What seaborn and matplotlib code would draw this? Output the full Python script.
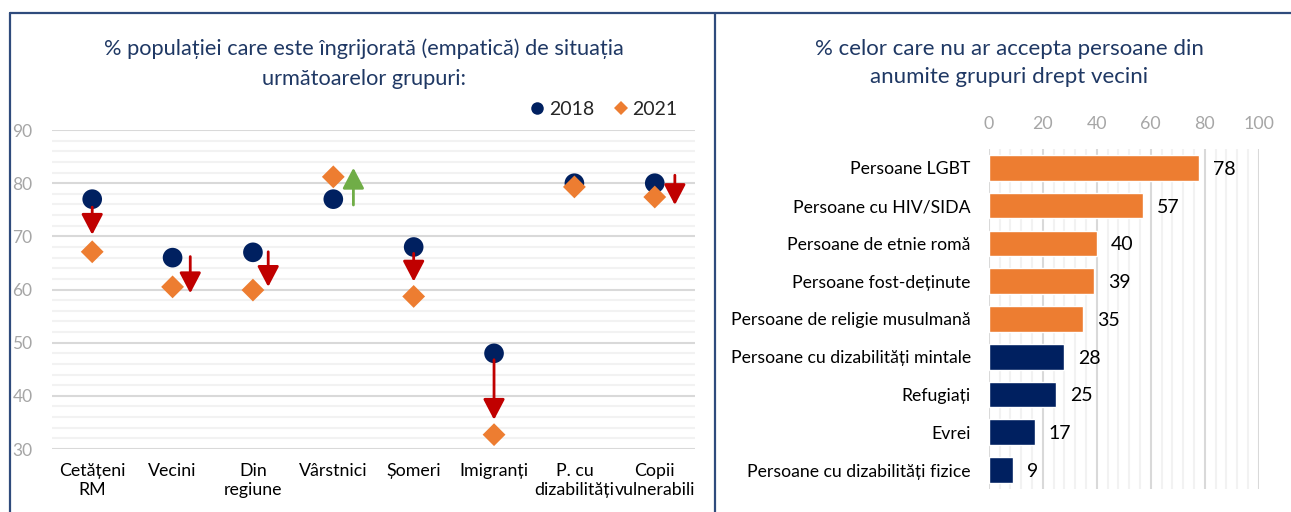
import matplotlib.pyplot as plt
import pandas as pd
import seaborn as sns
from matplotlib.lines import Line2D

# Left chart: concern for groups, 2018 vs 2021
groups = ["Cetățeni\nRM", "Vecini", "Din\nregiune", "Vârstnici", "Șomeri",
          "Imigranți", "P. cu\ndizabilități", "Copii\nvulnerabili"]
val_2018 = [77, 66, 67, 77, 68, 48, 80, 80]
val_2021 = [67.1, 60.5, 59.9, 81.2, 58.7, 32.7, 79.3, 77.4]

# change arrows (start, end, side shift in category units); None = no arrow
arrow_start = [75.5, 66.2, 67.1, 75.9, 66.8, 46.8, None, 81.5]
arrow_end = [70.3, 59.3, 60.5, 82.9, 61.5, 35.5, None, 75.9]
arrow_shift = [0, 0.22, 0.19, 0.25, 0, 0, 0, 0.25]

# Right chart: would not accept as neighbours
nb_labels = ["Persoane LGBT", "Persoane cu HIV/SIDA", "Persoane de etnie romă",
             "Persoane fost-deținute", "Persoane de religie musulmană",
             "Persoane cu dizabilități mintale", "Refugiați", "Evrei",
             "Persoane cu dizabilități fizice"]
nb_values = [78, 57, 40, 39, 35, 28, 25, 17, 9]

NAVY = "#002060"
ORANGE = "#ED7D31"
RED = "#C00000"
GREEN = "#70AD47"
TITLE = "#1F3864"
FRAME = "#2F4B7C"

sns.set_theme(style="white")
plt.rcParams["font.family"] = ["Lato", "DejaVu Sans"]

fig = plt.figure(figsize=(12.91, 5.12), dpi=100)

# ---------- left panel ----------
ax = fig.add_axes([0.0403, 0.123, 0.498, 0.623])
df = pd.DataFrame({
    "grup": groups * 2,
    "val": val_2018 + val_2021,
    "an": ["2018"] * len(groups) + ["2021"] * len(groups),
})
sns.scatterplot(df, x="grup", y="val", hue="an", style="an", size="an",
                markers={"2018": "o", "2021": "D"},
                palette={"2018": NAVY, "2021": ORANGE},
                sizes={"2018": 200, "2021": 135},
                linewidth=0, ax=ax, zorder=3)

for i in range(len(groups)):
    if arrow_start[i] is None:
        continue
    col = GREEN if arrow_end[i] > arrow_start[i] else RED
    ax.annotate("", xy=(i + arrow_shift[i], arrow_end[i]),
                xytext=(i + arrow_shift[i], arrow_start[i]),
                arrowprops=dict(arrowstyle="-|>,head_width=0.55,head_length=1.05",
                                color=col, lw=2, shrinkA=0, shrinkB=0),
                zorder=4)

ax.set_xlim(-0.5, len(groups) - 0.5)
ax.set_ylim(30, 90)
ax.set_yticks(range(30, 91, 10))
ax.set_yticks(range(30, 91, 2), minor=True)
ax.grid(axis="y", which="major", color="#D9D9D9", lw=1.5)
ax.grid(axis="y", which="minor", color="#F2F2F2", lw=1.5)
ax.set_axisbelow(True)
for sp in ax.spines.values():
    sp.set_visible(False)
ax.tick_params(axis="y", which="both", length=0, pad=14, labelsize=12.5,
               labelcolor="#A6A6A6")
ax.tick_params(axis="x", length=0, pad=10, labelsize=12.8, labelcolor="black")
ax.set_xlabel("")
ax.set_ylabel("")

h, l = ax.get_legend_handles_labels()
leg = ax.legend(h, l, ncol=2, loc="center right", bbox_to_anchor=(1.0, 1.065),
                frameon=False, handletextpad=0.25, columnspacing=1.0,
                fontsize=14, handlelength=0.7)
for hd, sz in zip(leg.legend_handles, [9, 7]):
    hd.set_markersize(sz)

fig.text(0.282, 0.875,
         "% populației care este îngrijorată (empatică) de situația\nurmătoarelor grupuri:",
         ha="center", va="center", fontsize=15.7, color=TITLE, linespacing=1.65)

# ---------- right panel ----------
ax2 = fig.add_axes([0.766, 0.045, 0.209, 0.664])
sns.barplot(x=nb_values, y=nb_labels, hue=nb_labels,
            palette=[ORANGE] * 5 + [NAVY] * 4, legend=False,
            orient="h", width=0.68, saturation=1, ax=ax2, zorder=3)
ax2.set_xlim(0, 100)
ax2.set_ylim(len(nb_labels) - 0.5, -0.5)
ax2.set_xticks(range(0, 101, 20))
ax2.set_xticks(range(0, 101, 4), minor=True)
ax2.xaxis.tick_top()
ax2.grid(axis="x", which="major", color="#D9D9D9", lw=1.5)
ax2.grid(axis="x", which="minor", color="#F2F2F2", lw=1.5)
ax2.set_axisbelow(True)
for sp in ax2.spines.values():
    sp.set_visible(False)
ax2.tick_params(axis="x", which="both", length=0, pad=12, labelsize=12.8,
                labelcolor="#A6A6A6")
ax2.tick_params(axis="y", length=0, pad=13, labelsize=12.7, labelcolor="black")

for i, v in enumerate(nb_values):
    ax2.annotate(f"{v}", xy=(v, i), xytext=(10, -1), textcoords="offset points",
                 ha="left", va="center", fontsize=14, color="black")

fig.text(0.782, 0.877,
         "% celor care nu ar accepta persoane din\nanumite grupuri drept vecini",
         ha="center", va="center", fontsize=16, color=TITLE, linespacing=1.5)

# ---------- panel frames ----------
top = 1 - 13 / 512
fig.add_artist(Line2D([10 / 1291, 1], [top, top], color=FRAME, lw=1.6))
fig.add_artist(Line2D([10 / 1291, 10 / 1291], [0, top], color=FRAME, lw=1.6))
fig.add_artist(Line2D([715 / 1291, 715 / 1291], [0, top], color=FRAME, lw=1.6))

fig.savefig("out.png", dpi=100)
